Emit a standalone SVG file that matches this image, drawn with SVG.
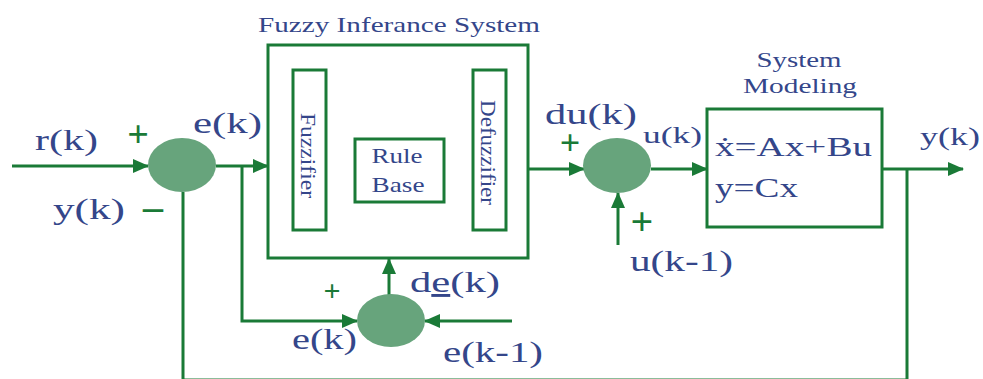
<svg xmlns="http://www.w3.org/2000/svg" width="983" height="379" viewBox="0 0 983 379">
  <style>
    .ln { fill: none; stroke: #1a7a37; stroke-width: 3; }
    .box { fill: #ffffff; stroke: #1a7a37; stroke-width: 3; }
    .sum { fill: #67a47c; stroke: none; }
    .t { font-family: "Liberation Serif", "Times New Roman", serif; fill: #34468a; }
    .sg { font-family: "Liberation Serif", "Times New Roman", serif; fill: #1a7a37; font-weight: bold; text-anchor: middle; }
  </style>
  <defs>
    <marker id="arrow" markerUnits="userSpaceOnUse" markerWidth="16" markerHeight="14" refX="15" refY="7" orient="auto">
      <path d="M0,0 L16,7 L0,14 Z" fill="#1a7a37"/>
    </marker>
  </defs>

  <!-- connectors -->
  <g id="connectors">
    <line class="ln" x1="12" y1="166" x2="148" y2="166" marker-end="url(#arrow)"/>
    <line class="ln" x1="216" y1="166" x2="268" y2="166" marker-end="url(#arrow)"/>
    <polyline class="ln" points="242,166 242,321 357,321" marker-end="url(#arrow)"/>
    <polyline class="ln" points="907,169 907,380 183,380 183,192"/>
    <line class="ln" x1="326" y1="170" x2="355" y2="170" marker-end="url(#arrow)"/>
    <line class="ln" x1="444" y1="169" x2="473" y2="169" marker-end="url(#arrow)"/>
    <line class="ln" x1="528" y1="169" x2="584" y2="169" marker-end="url(#arrow)"/>
    <line class="ln" x1="651" y1="169" x2="707" y2="169" marker-end="url(#arrow)"/>
    <line class="ln" x1="618" y1="245" x2="618" y2="193" marker-end="url(#arrow)"/>
    <line class="ln" x1="882" y1="169" x2="963" y2="169" marker-end="url(#arrow)"/>
    <line class="ln" x1="389" y1="295" x2="389" y2="259" marker-end="url(#arrow)"/>
    <line class="ln" x1="512" y1="321" x2="425" y2="321" marker-end="url(#arrow)"/>
  </g>

  <!-- fuzzy inference system block -->
  <g id="fis">
    <rect class="box" x="268" y="45" width="260" height="213"/>
    <text class="t" x="258" y="32" font-size="22" textLength="282" lengthAdjust="spacingAndGlyphs">Fuzzy Inferance System</text>
  </g>
  <g id="fuzzifier">
    <rect class="box" x="293" y="70" width="33" height="160"/>
    <text class="t" font-size="22" text-anchor="middle" transform="translate(301,155.5) rotate(90)" textLength="85" lengthAdjust="spacingAndGlyphs">Fuzzifier</text>
  </g>
  <g id="rule-base">
    <rect class="box" x="355" y="139" width="89" height="63"/>
    <text class="t" x="397" y="163" font-size="22" text-anchor="middle" textLength="51" lengthAdjust="spacingAndGlyphs">Rule</text>
    <text class="t" x="398" y="192" font-size="22" text-anchor="middle" textLength="53" lengthAdjust="spacingAndGlyphs">Base</text>
  </g>
  <g id="defuzzifier">
    <rect class="box" x="473" y="70" width="33" height="160"/>
    <text class="t" font-size="22" text-anchor="middle" transform="translate(481,152.5) rotate(90)" textLength="105" lengthAdjust="spacingAndGlyphs">Defuzzifier</text>
  </g>

  <!-- plant -->
  <g id="system-model">
    <rect class="box" x="707" y="109" width="175" height="118"/>
    <text class="t" x="799" y="67" font-size="20" text-anchor="middle" textLength="85" lengthAdjust="spacingAndGlyphs">System</text>
    <text class="t" x="800" y="93" font-size="20" text-anchor="middle" textLength="114" lengthAdjust="spacingAndGlyphs">Modeling</text>
    <text class="t" x="715" y="156" font-size="28" textLength="157" lengthAdjust="spacingAndGlyphs">ẋ=Ax+Bu</text>
    <text class="t" x="715" y="197" font-size="28" textLength="83" lengthAdjust="spacingAndGlyphs">y=Cx</text>
  </g>

  <!-- error summing junction -->
  <g id="sum-error">
    <ellipse class="sum" cx="182" cy="165" rx="34" ry="27"/>
    <text class="t" x="35" y="150" font-size="30" textLength="63" lengthAdjust="spacingAndGlyphs">r(k)</text>
    <text class="sg" x="138" y="147" font-size="38">+</text>
    <text class="t" x="53" y="219" font-size="30" textLength="72" lengthAdjust="spacingAndGlyphs">y(k)</text>
    <text class="sg" x="153" y="220" font-size="40">–</text>
    <text class="t" x="193" y="133" font-size="30" textLength="69" lengthAdjust="spacingAndGlyphs">e(k)</text>
  </g>

  <!-- control increment junction -->
  <g id="sum-control">
    <ellipse class="sum" cx="617" cy="165.5" rx="34" ry="27.5"/>
    <text class="t" x="545" y="124" font-size="30" textLength="92" lengthAdjust="spacingAndGlyphs">du(k)</text>
    <text class="sg" x="570" y="155" font-size="36">+</text>
    <text class="t" x="643" y="143" font-size="24" textLength="59" lengthAdjust="spacingAndGlyphs">u(k)</text>
    <text class="sg" x="642" y="235" font-size="40">+</text>
    <text class="t" x="630" y="271" font-size="30" textLength="103" lengthAdjust="spacingAndGlyphs">u(k-1)</text>
  </g>

  <!-- error difference junction -->
  <g id="sum-delta">
    <ellipse class="sum" cx="391" cy="320.5" rx="34" ry="26.5"/>
    <text class="sg" x="332" y="301" font-size="30">+</text>
    <text class="t" x="410" y="292" font-size="29" textLength="90" lengthAdjust="spacingAndGlyphs">d<tspan text-decoration="underline">e</tspan>(k)</text>
    <text class="t" x="292" y="349" font-size="30" textLength="65" lengthAdjust="spacingAndGlyphs">e(k)</text>
    <text class="t" x="443" y="362" font-size="30" textLength="100" lengthAdjust="spacingAndGlyphs">e(k-1)</text>
  </g>

  <!-- output label -->
  <g id="output">
    <text class="t" x="920" y="145" font-size="26" textLength="60" lengthAdjust="spacingAndGlyphs">y(k)</text>
  </g>
</svg>
